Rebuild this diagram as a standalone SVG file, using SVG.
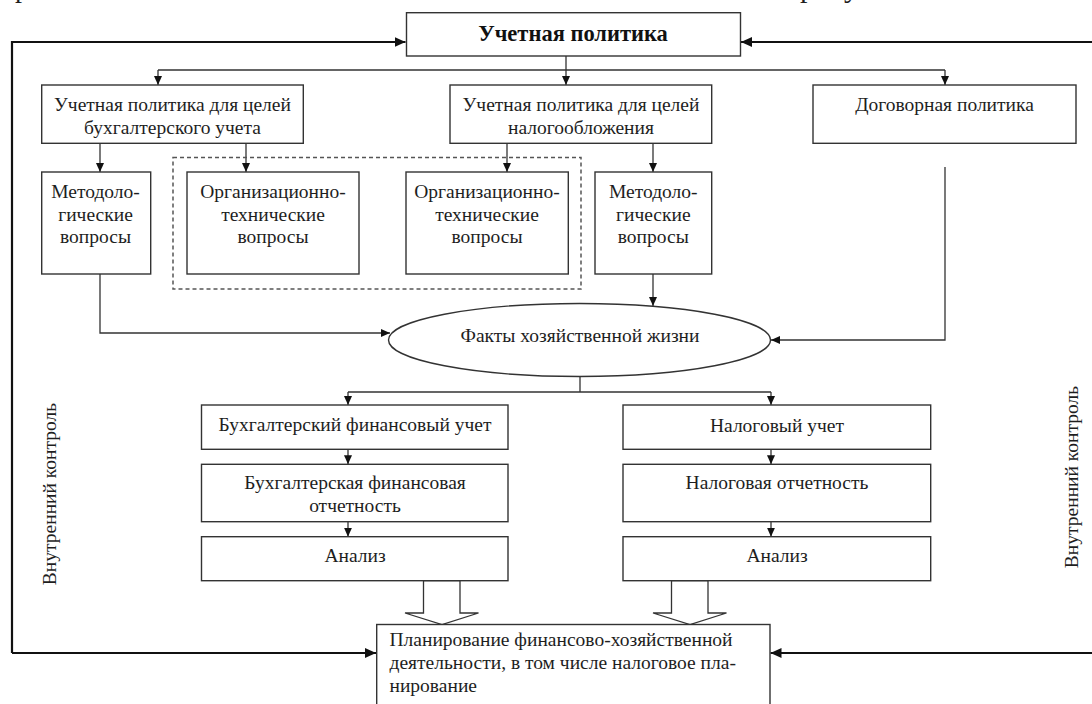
<svg xmlns="http://www.w3.org/2000/svg" width="1092" height="704" viewBox="0 0 1092 704">
<defs>
<marker id="ah" markerUnits="userSpaceOnUse" markerWidth="10" markerHeight="8" refX="9" refY="4" orient="auto"><path d="M0,0 L9,4 L0,8 z" fill="#111"/></marker>
<marker id="ahb" markerUnits="userSpaceOnUse" markerWidth="12" markerHeight="10" refX="11" refY="5" orient="auto"><path d="M0,0 L11,5 L0,10 z" fill="#111"/></marker>
</defs>
<style>
.box{fill:#fff;stroke:#333;stroke-width:1.4}
.t{font-family:"Liberation Serif","Times New Roman",serif;font-size:19.5px;fill:#1e1e1e;text-anchor:middle}
.tl{text-anchor:start}
.tb{font-weight:bold;font-size:22.5px;fill:#111}
.c{fill:none;stroke:#333;stroke-width:1.3}
.fb{fill:none;stroke:#111;stroke-width:2.2}
.dash{fill:none;stroke:#555;stroke-width:1.5;stroke-dasharray:4 3}
.blk{fill:#fff;stroke:#333;stroke-width:1.3}
</style>
<rect width="1092" height="704" fill="#fff"/>
<g id="page-text">
<text class="t tl" x="15" y="-3" style="font-size:28px">р</text>
<text class="t tl" x="800" y="-3" style="font-size:30px">рису</text>
</g>
<g id="connectors">
<path class="fb" d="M12,653 V42 H405.5" marker-end="url(#ahb)"/>
<path class="fb" d="M12,653 H376" marker-end="url(#ahb)"/>
<path class="fb" d="M1092,42 H741" marker-end="url(#ahb)"/>
<path class="fb" d="M1092,653 H770.5" marker-end="url(#ahb)"/>
<path class="c" d="M566,56 V70 M158,70 H945"/>
<path class="c" d="M158,70 V85" marker-end="url(#ah)"/>
<path class="c" d="M566,70 V85" marker-end="url(#ah)"/>
<path class="c" d="M945,70 V85" marker-end="url(#ah)"/>
<path class="c" d="M100,143 V172" marker-end="url(#ah)"/>
<path class="c" d="M246,143 V172" marker-end="url(#ah)"/>
<path class="c" d="M507,143 V172" marker-end="url(#ah)"/>
<path class="c" d="M653,143 V172" marker-end="url(#ah)"/>
<path class="c" d="M100,274 V333 H390" marker-end="url(#ah)"/>
<path class="c" d="M653,274 V306" marker-end="url(#ah)"/>
<path class="c" d="M945,167 V340 H771" marker-end="url(#ah)"/>
<path class="c" d="M580,376.5 V392 M348,392 H771"/>
<path class="c" d="M348,392 V405" marker-end="url(#ah)"/>
<path class="c" d="M771,392 V405" marker-end="url(#ah)"/>
<path class="c" d="M348,449.3 V464.3" marker-end="url(#ah)"/>
<path class="c" d="M348,521.7 V536.7" marker-end="url(#ah)"/>
<path class="c" d="M771,449.3 V464.3" marker-end="url(#ah)"/>
<path class="c" d="M771,521.7 V536.7" marker-end="url(#ah)"/>
<polygon class="blk" points="423.5,580.7 460,580.7 460,613 478.5,613 442,624.5 405,613 423.5,613"/>
<polygon class="blk" points="671.5,580.7 708,580.7 708,613 726.5,613 690,624.5 653,613 671.5,613"/>
</g>
<g id="org-group">
<rect class="dash" x="173" y="157.5" width="408" height="131.5"/>
</g>
<g id="n-policy">
<rect class="box" x="406.5" y="12.7" width="334" height="43.3"/>
<text class="t tb" x="573" y="41">Учетная политика</text>
</g>
<g id="n-acc-policy">
<rect class="box" x="41.7" y="85" width="261.6" height="58.3"/>
<text class="t" x="172.5" y="111">Учетная политика для целей</text>
<text class="t" x="172.5" y="134">бухгалтерского учета</text>
</g>
<g id="n-tax-policy">
<rect class="box" x="450" y="85" width="261.7" height="58.3"/>
<text class="t" x="581" y="111">Учетная политика для целей</text>
<text class="t" x="581" y="134">налогообложения</text>
</g>
<g id="n-contract">
<rect class="box" x="813" y="85" width="263" height="58.3"/>
<text class="t" x="944.5" y="111">Договорная политика</text>
</g>
<g id="n-method1">
<rect class="box" x="41.7" y="172" width="109" height="102"/>
<text class="t" x="95.5" y="198">Методоло-</text>
<text class="t" x="95.5" y="221">гические</text>
<text class="t" x="95.5" y="243">вопросы</text>
</g>
<g id="n-org1">
<rect class="box" x="187" y="172" width="172" height="102"/>
<text class="t" x="273" y="198">Организационно-</text>
<text class="t" x="273" y="221">технические</text>
<text class="t" x="273" y="243">вопросы</text>
</g>
<g id="n-org2">
<rect class="box" x="406" y="172" width="162.3" height="102"/>
<text class="t" x="487" y="198">Организационно-</text>
<text class="t" x="487" y="221">технические</text>
<text class="t" x="487" y="243">вопросы</text>
</g>
<g id="n-method2">
<rect class="box" x="595" y="172" width="116.7" height="102"/>
<text class="t" x="653.3" y="198">Методоло-</text>
<text class="t" x="653.3" y="221">гические</text>
<text class="t" x="653.3" y="243">вопросы</text>
</g>
<g id="n-facts">
<ellipse class="box" cx="579.5" cy="340" rx="191" ry="36.5"/>
<text class="t" x="580" y="342">Факты хозяйственной жизни</text>
</g>
<g id="n-acc">
<rect class="box" x="201.5" y="405" width="306.5" height="44.3"/>
<text class="t" x="355" y="431">Бухгалтерский финансовый учет</text>
</g>
<g id="n-acc-report">
<rect class="box" x="201.5" y="464.3" width="306.5" height="57.4"/>
<text class="t" x="355" y="489">Бухгалтерская финансовая</text>
<text class="t" x="355" y="512">отчетность</text>
</g>
<g id="n-acc-analysis">
<rect class="box" x="201.5" y="536.7" width="306.5" height="44"/>
<text class="t" x="355" y="562">Анализ</text>
</g>
<g id="n-tax">
<rect class="box" x="623" y="405" width="307.7" height="44.3"/>
<text class="t" x="777" y="432">Налоговый учет</text>
</g>
<g id="n-tax-report">
<rect class="box" x="623" y="464.3" width="307.7" height="57.4"/>
<text class="t" x="777" y="489">Налоговая отчетность</text>
</g>
<g id="n-tax-analysis">
<rect class="box" x="623" y="536.7" width="307.7" height="44"/>
<text class="t" x="777" y="562">Анализ</text>
</g>
<g id="n-planning">
<rect class="box" x="376.7" y="624.5" width="393.3" height="100"/>
<text class="t tl" x="389.5" y="646">Планирование финансово-хозяйственной</text>
<text class="t tl" x="389.5" y="669">деятельности, в том числе налоговое пла-</text>
<text class="t tl" x="389.5" y="692">нирование</text>
</g>
<g id="label-left">
<text class="t" transform="translate(56,494) rotate(-90)">Внутренний контроль</text>
</g>
<g id="label-right">
<text class="t" transform="translate(1078,477) rotate(-90)">Внутренний контроль</text>
</g>
</svg>
